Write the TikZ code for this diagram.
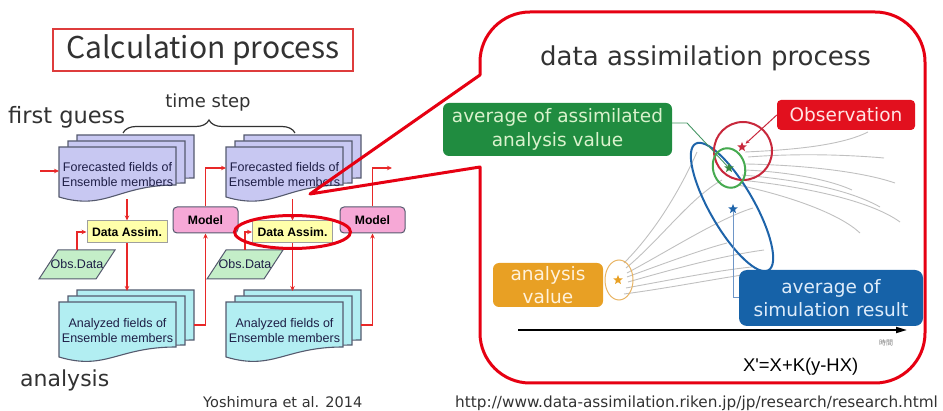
\documentclass[tikz,border=0pt]{standalone}
\usepackage{fontspec}
\setmainfont{DejaVu Sans}
\newfontfamily\jpfont{Noto Sans CJK JP}
\newfontfamily\arialfont{Liberation Sans}
\usetikzlibrary{arrows.meta,shapes.geometric,decorations.pathreplacing,calc}
\definecolor{calloutred}{RGB}{230,0,18}
\definecolor{titlered}{RGB}{222,60,60}
\definecolor{linkred}{RGB}{232,40,40}
\definecolor{fcfill}{RGB}{200,200,242}
\definecolor{anfill}{RGB}{178,238,242}
\definecolor{docedge}{RGB}{85,90,110}
\definecolor{docink}{RGB}{30,30,70}
\definecolor{dafill}{RGB}{255,255,170}
\definecolor{mdfill}{RGB}{246,168,214}
\definecolor{obfill}{RGB}{196,238,200}
\definecolor{txtgray}{RGB}{50,50,50}
\definecolor{boxgreen}{RGB}{32,140,64}
\definecolor{boxred}{RGB}{226,16,30}
\definecolor{boxblue}{RGB}{22,98,168}
\definecolor{boxorange}{RGB}{232,160,36}
\definecolor{trajgray}{RGB}{192,192,192}
\definecolor{ringred}{RGB}{200,40,60}
\definecolor{ringgreen}{RGB}{70,170,80}
\definecolor{ringblue}{RGB}{30,100,170}
\definecolor{ringorange}{RGB}{232,180,100}
\definecolor{thinblue}{RGB}{110,150,200}
\definecolor{thingreen}{RGB}{70,150,100}
\newcommand\docsheet[6]{%
  \filldraw[docline,fill=#6] (#1,#2) -- (#1+117,#2) -- (#1+117,#2+#4)
    .. controls (#1+58.5,#2+#4) and (#1+46.8,#2+#3+14) .. (#1,#2+#3) -- cycle;}
\newcommand\docstack[5]{%
  \docsheet{#1+18}{#2-12}{#3}{#4+5}{}{#5}%
  \docsheet{#1+9}{#2-6}{#3}{#4+4}{}{#5}%
  \docsheet{#1}{#2}{#3}{#4}{}{#5}}
\begin{document}
\begin{tikzpicture}[x=1pt,y=-1pt,
  every node/.style={inner sep=0pt},
  link/.style={draw=linkred, line width=1.4pt, -{Stealth[length=5pt,width=4.5pt]}},
  docline/.style={draw=docedge, line width=1.1pt},
  doctext/.style={font=\arialfont\fontsize{12.5}{14.5}\selectfont, text=docink, align=center},
  dabox/.style={draw=gray!75, line width=1pt, fill=dafill, minimum width=80pt, minimum height=22pt, font=\arialfont\bfseries\fontsize{12.2}{14}\selectfont},
  mdbox/.style={draw=docedge, line width=1pt, fill=mdfill, rounded corners=4pt, minimum width=65pt, minimum height=26pt, font=\arialfont\bfseries\fontsize{12.2}{14}\selectfont},
  obtext/.style={minimum width=40pt, minimum height=29pt, font=\arialfont\fontsize{12.5}{14}\selectfont, text=docink},
  obshape/.style={draw=docedge, line width=1pt, fill=obfill},
  tagbox/.style={rounded corners=6pt, align=center, font=\fontsize{18.5}{23.5}\selectfont},
  traj/.style={draw=trajgray, line width=0.9pt},
  starmark/.style={star, star points=5, star point ratio=2.3, minimum size=10pt, inner sep=0pt},
  bigtext/.style={text=txtgray}
]
\useasboundingbox (0,0) rectangle (943,411);

% ---------- left: calculation process ----------
\node[draw=titlered, line width=1.2pt, minimum width=300pt, minimum height=42pt,
      font=\jpfont\fontsize{30}{36}\selectfont, bigtext] (calc) at (203,50) {Calculation process};
\node[bigtext, font=\fontsize{18}{20}\selectfont, anchor=base] (tstep) at (208,108) {time step};
\node[bigtext, font=\fontsize{22.5}{26}\selectfont, anchor=base west] (fguess) at (8,124) {first guess};
\node[bigtext, font=\fontsize{22}{26}\selectfont, anchor=base west] (anal) at (20,387) {analysis};
\draw[decorate, decoration={brace, amplitude=13pt}, line width=1.2pt, txtgray] (123,133) -- (295,133);

% document stacks
\docstack{59}{147}{50}{38}{fcfill}
\docstack{226}{147}{50}{38}{fcfill}
\docstack{59}{302}{55}{45}{anfill}
\docstack{226}{302}{55}{45}{anfill}
\node[doctext] (f1) at (117.5,174.5) {Forecasted fields of\\Ensemble members};
\node[doctext] (f2) at (284.5,174.5) {Forecasted fields of\\Ensemble members};
\node[doctext] (a1) at (117.5,330.5) {Analyzed fields of\\Ensemble members};
\node[doctext] (a2) at (284.5,330.5) {Analyzed fields of\\Ensemble members};

% process boxes
\node[dabox] (d1) at (127,232) {Data Assim.};
\node[dabox] (d2) at (292.5,232) {Data Assim.};
\node[mdbox] (m1) at (205.5,220) {Model};
\node[mdbox] (m2) at (372.5,220) {Model};
\filldraw[obshape] (58,250) -- (115,250) -- (96,279) -- (39,279) -- cycle;
\filldraw[obshape] (226,250) -- (283,250) -- (264,279) -- (207,279) -- cycle;
\node[obtext] (o1) at (77,264.5) {Obs.Data};
\node[obtext] (o2) at (245,264.5) {Obs.Data};

% connector end points
\coordinate (in1) at (40,171);
\coordinate (f1l) at (59,171);
\coordinate (f1b) at (127,199);
\coordinate (a1t) at (127,291);
\coordinate (a1r) at (194,325);
\coordinate (f2l) at (226,168);
\coordinate (f2b) at (292.5,199);
\coordinate (a2t) at (292.5,291);
\coordinate (a2r) at (361,325);
\coordinate (out2) at (392,168);

\draw[link] (in1) -- (f1l);
\draw[link] (f1b) -- (d1.north);
\draw[link] (d1.south) -- (a1t);
\draw[link] (o1.north) |- (d1.west);
\draw[link] (a1r) -| (m1.south);
\draw[link] (m1.north) |- (f2l);
\draw[link] (f2b) -- (d2.north);
\draw[link] (d2.south) -- (a2t);
\draw[link] (o2.north) |- (d2.west);
\draw[link] (a2r) -| (m2.south);
\draw[link] (m2.north) |- (out2);

\draw[calloutred, line width=3pt] (d2) ellipse [x radius=58pt, y radius=16.5pt];

% ---------- callout ----------
\coordinate (tip) at (310,194);
\coordinate (cu) at (480,75);
\coordinate (cl) at (480,167);
\draw[calloutred, line width=3pt, line join=round]
  (tip) -- (cu) -- (480,62) .. controls (480,34.4) and (502.4,12) .. (530,12)
  -- (875,12) .. controls (902.6,12) and (925,34.4) .. (925,62)
  -- (925,333) .. controls (925,360.6) and (902.6,383) .. (875,383)
  -- (530,383) .. controls (502.4,383) and (480,360.6) .. (480,333)
  -- (cl) -- cycle;

\node[bigtext, font=\fontsize{26}{30}\selectfont, anchor=base west] (datitle) at (540,66) {data assimilation process};

% trajectories: analysis -> forecast
\draw[traj] (624,263) .. controls (655,232) and (680,190) .. (697,152);
\draw[traj] (626,268) .. controls (660,240) and (690,198) .. (722,180);
\draw[traj] (627,273) .. controls (670,250) and (720,218) .. (753,208);
\draw[traj] (627,277) .. controls (660,265) and (700,250) .. (727,243);
\draw[traj] (628,282) .. controls (670,270) and (720,256) .. (764,250);
\draw[traj] (626,288) .. controls (670,280) and (720,270) .. (752,267);
\draw[traj] (624,294) .. controls (670,288) and (730,276) .. (770,271);
% trajectories: after assimilation
\draw[traj] (745,152) .. controls (790,150) and (840,146) .. (868,132);
\draw[traj] (748,157) .. controls (800,153) and (850,155) .. (884,158);
\draw[traj] (746,164) .. controls (800,165) and (860,171) .. (895,183);
\draw[traj] (745,170) .. controls (790,172) and (830,180) .. (852,190);
\draw[traj] (742,175) .. controls (800,180) and (850,190) .. (880,207);
\draw[traj] (740,180) .. controls (800,186) and (870,200) .. (900,222);
\draw[traj] (738,185) .. controls (790,196) and (840,214) .. (860,233);

% time axis
\coordinate (t0) at (518,330);
\coordinate (t1) at (907,330);
\draw[line width=1.8pt, -{Triangle[length=11pt,width=6pt]}] (t0) -- (t1);
\node[font=\jpfont\fontsize{7}{8}\selectfont, text=gray] (jikan) at (886,343) {時間};

% rings
\coordinate (cr) at (743,151);
\coordinate (cg) at (729,168);
\coordinate (cb) at (732,207);
\coordinate (co) at (619,280);
\draw[ringblue, line width=2pt, rotate around={-60:(cb)}] (cb) ellipse [x radius=73pt, y radius=22pt];
\draw[ringred, line width=2pt] (cr) circle [radius=29pt];
\draw[ringgreen, line width=2pt, rotate around={15:(cg)}] (cg) ellipse [x radius=16pt, y radius=20pt];
\draw[ringorange, line width=1pt] (co) ellipse [x radius=14pt, y radius=20pt];

% stars
\node[starmark, fill=ringred] (sr) at (742,147) {};
\node[starmark, fill=ringgreen!80!black] (sg) at (729,168) {};
\node[starmark, fill=ringblue] (sb) at (733,209) {};
\node[starmark, fill=boxorange] (so) at (618,280) {};

% label boxes
\node[tagbox, fill=boxgreen, text={rgb,255:red,218;green,242;blue,205}, minimum width=229pt, minimum height=53pt] (gbox) at (557.5,129.5) {average of assimilated\\analysis value};
\node[tagbox, rounded corners=4pt, fill=boxred, text={rgb,255:red,255;green,228;blue,228}, minimum width=138pt, minimum height=30pt] (rbox) at (846,115) {Observation};
\node[tagbox, rounded corners=8pt, fill=boxblue, text={rgb,255:red,222;green,236;blue,250}, minimum width=184pt, minimum height=56pt] (bbox) at (831,298) {average of\\simulation result};
\node[tagbox, fill=boxorange, text={rgb,255:red,255;green,242;blue,220}, minimum width=110pt, minimum height=44pt] (obox) at (548,285) {analysis\\value};

% pointers
\coordinate (gk) at (687,123);
\draw[thingreen, line width=0.9pt] (gbox.east |- gk) -- (gk) -- (sg);
\draw[ringred, line width=1pt, -{Stealth[length=4pt,width=3.5pt]}, shorten >=2pt] (rbox.west) -- (sr);
\draw[thinblue, line width=1pt] (sb) |- (bbox.west);

\node[font=\arialfont\fontsize{18.4}{20}\selectfont, anchor=base west] (eq) at (743,372) {X'=X+K(y-HX)};

% sources
\node[bigtext, font=\fontsize{14.5}{16}\selectfont, anchor=base west] (cite) at (203,408) {Yoshimura et al. 2014};
\node[bigtext, font=\fontsize{15.3}{17}\selectfont, anchor=base west] (url) at (455,408) {http://www.data-assimilation.riken.jp/jp/research/research.html};
\end{tikzpicture}
\end{document}
